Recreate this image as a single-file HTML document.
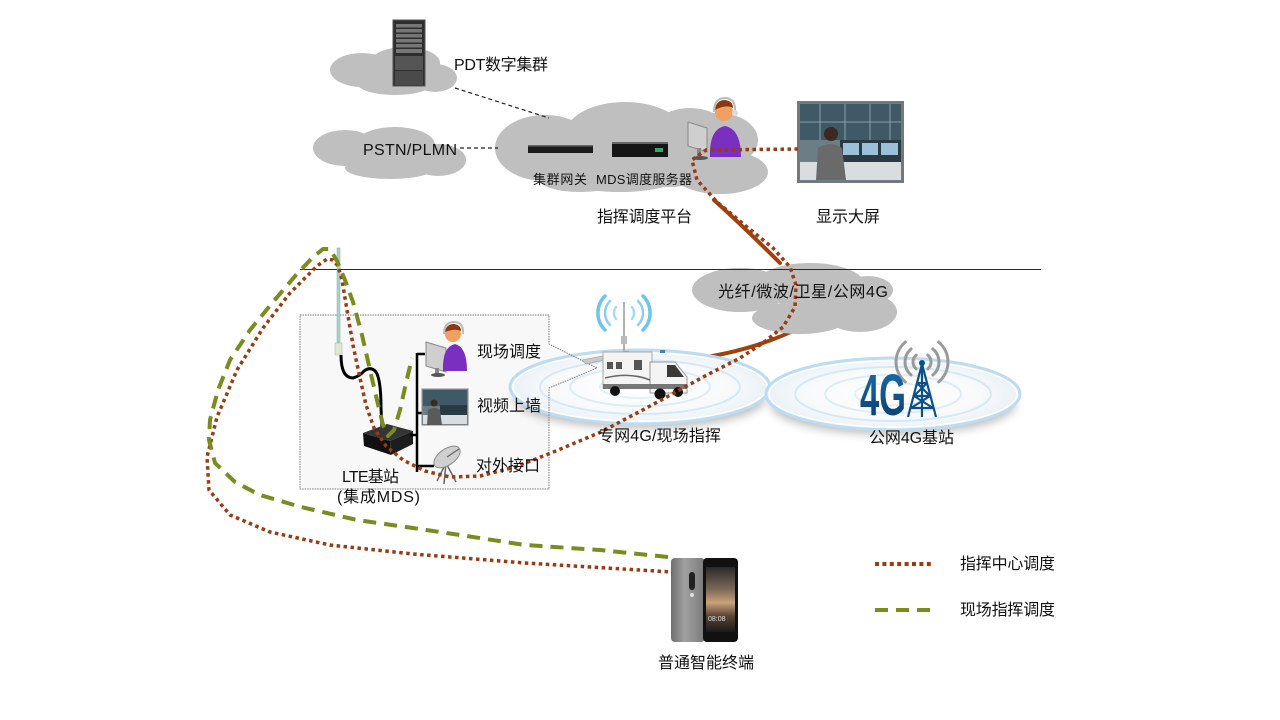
<!DOCTYPE html>
<html><head><meta charset="utf-8"><style>
html,body{margin:0;padding:0;background:#fff;}
svg{display:block;}
text{font-family:"Liberation Sans","Noto Sans CJK SC",sans-serif;fill:#111;}
</style></head><body>
<svg width="1280" height="720" viewBox="0 0 1280 720" xmlns="http://www.w3.org/2000/svg">
<defs>
<radialGradient id="ringg" cx="50%" cy="50%" r="50%">
<stop offset="0" stop-color="#ffffff"/><stop offset="0.7" stop-color="#f7f9fb"/><stop offset="1" stop-color="#e9f1f7"/>
</radialGradient>
<linearGradient id="g4g" x1="0" y1="0" x2="0" y2="1"><stop offset="0" stop-color="#1a6fb0"/><stop offset="1" stop-color="#0a3a68"/></linearGradient>
<linearGradient id="phb" x1="0" y1="0" x2="1" y2="0"><stop offset="0" stop-color="#6e6e6e"/><stop offset="0.4" stop-color="#a0a0a0"/><stop offset="1" stop-color="#7a7a7a"/></linearGradient>
<linearGradient id="phs" x1="0" y1="0" x2="0" y2="1"><stop offset="0" stop-color="#2a2a2a"/><stop offset="0.35" stop-color="#7d6a58"/><stop offset="0.55" stop-color="#c9a27a"/><stop offset="0.75" stop-color="#5a4535"/><stop offset="1" stop-color="#1a1a1a"/></linearGradient>
<filter id="blur" x="-20%" y="-50%" width="140%" height="200%"><feGaussianBlur stdDeviation="5"/></filter>
</defs>

<!-- clouds -->
<g fill="#bfbfbf">
<ellipse cx="362" cy="70" rx="32" ry="17"/><ellipse cx="405" cy="63" rx="35" ry="16"/><ellipse cx="435" cy="78" rx="22" ry="14"/><ellipse cx="395" cy="83" rx="38" ry="12"/>
<ellipse cx="345" cy="148" rx="32" ry="18"/><ellipse cx="395" cy="145" rx="40" ry="18"/><ellipse cx="438" cy="160" rx="28" ry="16"/><ellipse cx="390" cy="168" rx="45" ry="11"/>
<ellipse cx="545" cy="148" rx="50" ry="33"/><ellipse cx="625" cy="135" rx="60" ry="33"/><ellipse cx="690" cy="132" rx="38" ry="24"/><ellipse cx="718" cy="140" rx="40" ry="27"/><ellipse cx="720" cy="172" rx="48" ry="22"/><ellipse cx="620" cy="170" rx="70" ry="22"/><ellipse cx="580" cy="180" rx="40" ry="12"/><ellipse cx="670" cy="165" rx="40" ry="22"/>
</g>

<!-- dashed black links -->
<g stroke="#222" stroke-width="1.2" stroke-dasharray="4 3" fill="none">
<line x1="455" y1="88" x2="549" y2="118"/>
<line x1="460" y1="148" x2="498" y2="148"/>
</g>

<!-- server rack -->
<rect x="393" y="20" width="32" height="66" fill="#2e2e2e" stroke="#555"/>
<g fill="#777"><rect x="396" y="24" width="26" height="3.5"/><rect x="396" y="29" width="26" height="3.5"/><rect x="396" y="34" width="26" height="3.5"/><rect x="396" y="39" width="26" height="3.5"/><rect x="396" y="44" width="26" height="3.5"/><rect x="396" y="49" width="26" height="4"/></g>
<rect x="395" y="56" width="28" height="14" fill="#555"/><rect x="395" y="71" width="28" height="14" fill="#4a4a4a"/>

<!-- devices -->
<rect x="528" y="145" width="65" height="8" fill="#1b1b1b"/><rect x="528" y="145" width="65" height="1.5" fill="#666"/>
<rect x="612" y="142" width="56" height="15" fill="#151515"/><rect x="612" y="142" width="56" height="2" fill="#666"/><rect x="655" y="148" width="8" height="4" fill="#3a6"/>

<!-- operator top -->
<polygon points="688,122 707,128 707,152 688,146" fill="#cfcfcf" stroke="#8a8a8a"/>
<rect x="697" y="148" width="4" height="9" fill="#888"/><ellipse cx="700" cy="158" rx="8" ry="2" fill="#555"/>
<path d="M710 157 Q709 129 725 126 Q741 129 741 157 Z" fill="#7a2fc0"/>
<circle cx="724" cy="112" r="9" fill="#f0a060"/>
<path d="M715 110 Q716 100 725 100 Q733 101 733 108 Q726 104 715 110Z" fill="#8a3a10"/>
<path d="M714 112 Q714 98 725 98 Q736 98 735 112" fill="none" stroke="#bbb" stroke-width="2"/>
<circle cx="735" cy="113" r="3" fill="#ddd"/>

<!-- display photo -->
<rect x="798" y="102" width="105" height="80" fill="#6b7d85" stroke="#777" stroke-width="2"/>
<rect x="800" y="104" width="101" height="36" fill="#3f5a66"/>
<g stroke="#9fb3bd" stroke-width="0.8"><line x1="820" y1="104" x2="820" y2="140"/><line x1="845" y1="104" x2="845" y2="140"/><line x1="870" y1="104" x2="870" y2="140"/><line x1="890" y1="104" x2="890" y2="140"/><line x1="800" y1="122" x2="901" y2="122"/></g>
<rect x="840" y="140" width="61" height="22" fill="#2a3a44"/>
<g fill="#9cc0d8"><rect x="843" y="143" width="16" height="12"/><rect x="862" y="143" width="16" height="12"/><rect x="881" y="143" width="17" height="12"/></g>
<rect x="800" y="162" width="101" height="18" fill="#d9dde0"/>
<path d="M816 180 L818 148 Q830 140 842 148 L846 180Z" fill="#6a6a6a"/>
<circle cx="831" cy="134" r="7" fill="#3a2a20"/>

<!-- solid brown links (under cloud) -->
<g stroke="#a0420f" stroke-width="4" fill="none" stroke-linecap="round">
<path d="M714 200 Q745 228 780 263"/>
<path d="M686 360 Q752 352 801 327"/>
</g>

<!-- fiber cloud -->
<g fill="#bfbfbf">
<ellipse cx="740" cy="290" rx="48" ry="22"/><ellipse cx="810" cy="285" rx="55" ry="22"/><ellipse cx="860" cy="312" rx="37" ry="20"/><ellipse cx="800" cy="318" rx="48" ry="16"/><ellipse cx="868" cy="290" rx="25" ry="14"/>
</g>

<!-- horizontal divider -->
<line x1="300" y1="269.5" x2="1041" y2="269.5" stroke="#2b2b12" stroke-width="1"/>

<!-- callout box fill -->
<path d="M300 315 L549 315 L549 344 L597 368 L549 388 L549 489 L300 489 Z" fill="#f8f8f8"/>

<!-- rings -->
<ellipse cx="640" cy="398" rx="125" ry="30" fill="#000" opacity="0.28" filter="url(#blur)"/>
<ellipse cx="893" cy="404" rx="122" ry="30" fill="#000" opacity="0.28" filter="url(#blur)"/>
<g>
<ellipse cx="640" cy="387" rx="130" ry="37" fill="url(#ringg)" stroke="#bcdcf2" stroke-width="3"/>
<ellipse cx="640" cy="387" rx="127" ry="34" fill="none" stroke="#fff" stroke-width="1.5"/>
<ellipse cx="640" cy="387" rx="100" ry="27" fill="none" stroke="#d4e9f7" stroke-width="2"/>
<ellipse cx="640" cy="387" rx="70" ry="19" fill="none" stroke="#dcedf8" stroke-width="2"/>
<ellipse cx="640" cy="387" rx="40" ry="11" fill="none" stroke="#e3f0f9" stroke-width="2"/>
<ellipse cx="893" cy="394" rx="127" ry="36" fill="url(#ringg)" stroke="#bcdcf2" stroke-width="3"/>
<ellipse cx="893" cy="394" rx="124" ry="33" fill="none" stroke="#fff" stroke-width="1.5"/>
<ellipse cx="893" cy="394" rx="98" ry="27" fill="none" stroke="#d4e9f7" stroke-width="2"/>
<ellipse cx="893" cy="394" rx="68" ry="19" fill="none" stroke="#dcedf8" stroke-width="2"/>
<ellipse cx="893" cy="394" rx="38" ry="11" fill="none" stroke="#e3f0f9" stroke-width="2"/>
</g>

<!-- callout outline -->
<path d="M300 315 L549 315 L549 344 L597 368 L549 388 L549 489 L300 489 Z" fill="none" stroke="#7a7a7a" stroke-width="1" stroke-dasharray="1.5 1"/>

<!-- vehicle -->
<g fill="none" stroke-width="2.5" stroke-linecap="round">
<path d="M616 307 A 10 10 0 0 0 616 319" stroke="#a5dcf6"/><path d="M632 307 A 10 10 0 0 1 632 319" stroke="#a5dcf6"/>
<path d="M610 301 A 17 17 0 0 0 610 325" stroke="#8ad0f3"/><path d="M638 301 A 17 17 0 0 1 638 325" stroke="#8ad0f3"/>
<path d="M605 296 A 24 24 0 0 0 605 330" stroke="#6cc4ef" stroke-width="3.5"/><path d="M643 296 A 24 24 0 0 1 643 330" stroke="#6cc4ef" stroke-width="3.5"/>
</g>
<line x1="624" y1="302" x2="624" y2="352" stroke="#999" stroke-width="1.5"/>
<rect x="621" y="336" width="6" height="8" fill="#bbb"/>
<polygon points="582,360 628,351 632,354 586,364" fill="#c9c9c9" stroke="#999" stroke-width="0.6"/>
<rect x="603" y="352" width="49" height="36" fill="#f4f4f4" stroke="#a8a8a8"/>
<g fill="#555"><rect x="607" y="362" width="6" height="7"/><rect x="616" y="362" width="6" height="7"/><rect x="634" y="360" width="8" height="10"/></g>
<path d="M650 362 L675 362 L687 377 L687 393 L650 393 Z" fill="#f4f4f4" stroke="#999"/>
<polygon points="667,365 675,365 684,377 667,377" fill="#3a3a3a"/>
<rect x="603" y="384" width="84" height="5" fill="#777"/>
<path d="M605 378 Q630 372 650 380" fill="none" stroke="#666" stroke-width="1.5"/>
<rect x="660" y="350" width="5" height="3" fill="#4a7fd0"/>
<g fill="#111"><circle cx="615" cy="391" r="5"/><circle cx="660" cy="394" r="5.5"/><circle cx="678" cy="392" r="5"/></g>

<!-- 4G station -->
<g fill="none" stroke="#9a9a9a" stroke-width="3" stroke-linecap="round">
<path d="M916.2 355.1 A 9 9 0 0 0 916.2 368.9"/><path d="M911.1 349 A 17 17 0 0 0 911.1 375"/><path d="M905.3 342.1 A 26 26 0 0 0 905.3 381.9"/>
<path d="M927.8 355.1 A 9 9 0 0 1 927.8 368.9"/><path d="M932.9 349 A 17 17 0 0 1 932.9 375"/><path d="M938.7 342.1 A 26 26 0 0 1 938.7 381.9"/>
</g>
<text x="860" y="415" font-size="58" font-weight="bold" textLength="46" lengthAdjust="spacingAndGlyphs" style="fill:url(#g4g)">4G</text>
<g stroke="#0d4f8b" stroke-width="2.2" fill="none">
<path d="M922 364 L908 417 M922 364 L936 417 M922 364 L922 417"/>
<path d="M917 383 L927 383 M914 396 L930 396 M911 408 L933 408 M917 383 L930 396 M927 383 L914 396 M914 396 L933 408 M930 396 L911 408"/>
</g>
<circle cx="922" cy="363" r="3" fill="#0d4f8b"/>

<!-- antenna & cable -->
<rect x="337" y="248" width="3" height="98" fill="#a9d2cb" stroke="#7fb0a8" stroke-width="0.5"/>
<rect x="335" y="343" width="7" height="12" fill="#e0e8d0" stroke="#aab" stroke-width="0.5"/>
<path d="M341 355 Q341 378 353 378 Q360 376 364 371 Q371 366 376 372 Q381 380 381 408 L382 428" fill="none" stroke="#000" stroke-width="3"/>

<!-- LTE box -->
<polygon points="363,433 387,424 413,431 390,441" fill="#353535"/>
<polygon points="363,433 390,441 391,455 364,446" fill="#101010"/>
<polygon points="390,441 413,431 413,444 391,455" fill="#1d1d1d"/>

<!-- bracket -->
<g stroke="#000" stroke-width="2.5">
<line x1="417" y1="353" x2="417" y2="472"/>
<line x1="417" y1="354" x2="425" y2="354"/>
<line x1="417" y1="413" x2="424" y2="413"/>
<line x1="410" y1="435" x2="417" y2="435"/>
<line x1="417" y1="466" x2="434" y2="466"/>
</g>

<!-- field operator -->
<polygon points="426,342 446,348 446,372 426,366" fill="#cfcfcf" stroke="#8a8a8a"/>
<rect x="435" y="368" width="4" height="7" fill="#888"/><ellipse cx="438" cy="375" rx="7" ry="2" fill="#555"/>
<path d="M443 371 Q442 347 455 344 Q467 347 467 371 Z" fill="#7a2fc0"/>
<circle cx="453" cy="334" r="8" fill="#f0a060"/>
<path d="M445 332 Q446 324 454 324 Q461 325 461 331 Q455 328 445 332Z" fill="#8a3a10"/>
<path d="M444 334 Q444 322 454 322 Q464 322 463 334" fill="none" stroke="#bbb" stroke-width="2"/>

<!-- video wall image -->
<rect x="422" y="389" width="46" height="36" fill="#6b7d85" stroke="#888"/>
<rect x="423" y="390" width="44" height="16" fill="#3f5a66"/>
<rect x="440" y="405" width="27" height="10" fill="#2a3a44"/>
<rect x="423" y="415" width="44" height="9" fill="#d9dde0"/>
<path d="M427 425 L428 410 Q434 406 440 410 L442 425Z" fill="#5a5a5a"/>
<circle cx="434" cy="403" r="3.5" fill="#3a2a20"/>

<!-- dish -->
<g stroke="#666" stroke-width="1.5">
<line x1="446" y1="463" x2="437" y2="481"/><line x1="446" y1="463" x2="456" y2="482"/><line x1="446" y1="463" x2="444" y2="484"/>
</g>
<ellipse cx="447" cy="457" rx="15" ry="8" transform="rotate(-35 447 457)" fill="#cfcfcf" stroke="#8a8a8a"/>
<line x1="447" y1="457" x2="459" y2="449" stroke="#666" stroke-width="1.2"/>

<!-- phone -->
<rect x="671" y="558" width="34" height="84" rx="4" fill="url(#phb)"/>
<rect x="689" y="572" width="6" height="18" rx="3" fill="#222"/>
<circle cx="692" cy="595" r="2" fill="#ddd"/>
<rect x="703" y="558" width="35" height="84" rx="4" fill="#111"/>
<rect x="706" y="567" width="29" height="65" fill="url(#phs)"/>
<text x="708" y="621" font-size="7" style="fill:#ddd">08:08</text>

<!-- brown dotted path -->
<path d="M798 149 L706 150 L692 160 L697 180 L717 202 L747 227 L773 248 L790 267 L796 285 L795 307 L783 327 L763 343 L740 358 L705 376 L652 405 L601 432 L551 453 L515 467 L480 476 L450 477 L425 471 L403 460 L386 446 L374 428 L366 405 L360 378 L353 345 L347 310 L342 280 L338 266 L333 260 L327 259 L317 266 L290 293 L263 328 L237 370 L217 417 L207 457 L209 490 L230 515 L270 532 L330 545 L413 554 L525 563 L672 572" fill="none" stroke="#9a3b12" stroke-width="3.5" stroke-dasharray="3.5 3.5" stroke-linejoin="round"/>

<!-- green dashed path -->
<path d="M668 557 L600 550 L525 545 L460 535 L413 528 L357 520 L301 507 L260 495 L235 482 L215 463 L209 440 L210 420 L218 390 L230 360 L250 330 L273 302 L296 275 L313 257 L323 249 L330 249 L337 261 L345 280 L353 302 L362 335 L370 370 L377 400 L383 425 L388 436 L394 430 L400 410 L406 383 L412 358" fill="none" stroke="#7b8b1f" stroke-width="4" stroke-dasharray="13 8" stroke-linejoin="round"/>

<!-- legend -->
<line x1="875" y1="564" x2="933" y2="564" stroke="#9a3b12" stroke-width="4" stroke-dasharray="4 3.4"/>
<line x1="875" y1="610" x2="930" y2="610" stroke="#7b8b1f" stroke-width="4" stroke-dasharray="13 8"/>

<!-- labels -->
<text x="454" y="70" font-size="16" textLength="94">PDT数字集群</text>
<text x="363" y="155" font-size="16" textLength="94">PSTN/PLMN</text>
<text x="533" y="184" font-size="13" textLength="54">集群网关</text>
<text x="596" y="184" font-size="13" textLength="96">MDS调度服务器</text>
<text x="597" y="222" font-size="16" textLength="95">指挥调度平台</text>
<text x="816" y="222" font-size="16" textLength="64">显示大屏</text>
<text x="718" y="297" font-size="16" textLength="170">光纤/微波/卫星/公网4G</text>
<text x="477" y="357" font-size="16" textLength="64">现场调度</text>
<text x="477" y="411" font-size="16" textLength="64">视频上墙</text>
<text x="476" y="471" font-size="16" textLength="64">对外接口</text>
<text x="342" y="482" font-size="16" textLength="57">LTE基站</text>
<text x="337" y="502" font-size="16" textLength="83">(集成MDS)</text>
<text x="598" y="441" font-size="16" textLength="123">专网4G/现场指挥</text>
<text x="869" y="443" font-size="16" textLength="85">公网4G基站</text>
<text x="658" y="668" font-size="16" textLength="96">普通智能终端</text>
<text x="960" y="569" font-size="16" textLength="95">指挥中心调度</text>
<text x="960" y="615" font-size="16" textLength="95">现场指挥调度</text>
</svg>
</body></html>
